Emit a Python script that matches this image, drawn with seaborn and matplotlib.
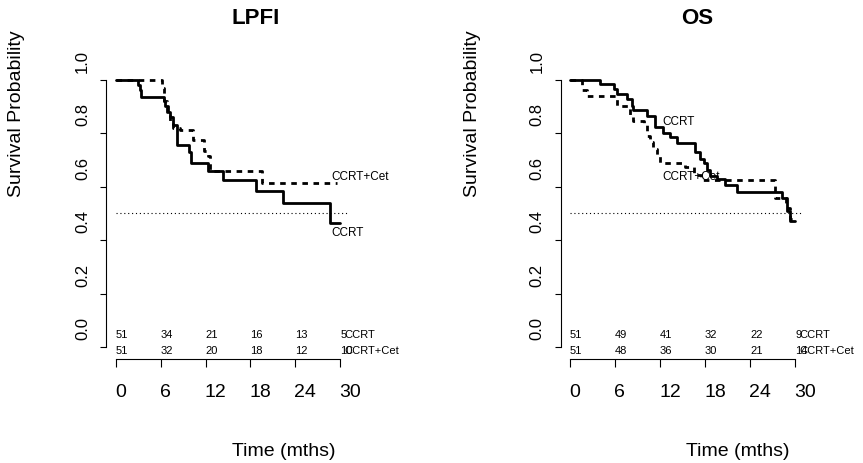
import matplotlib
matplotlib.use("Agg")
import matplotlib.pyplot as plt
import matplotlib.transforms as mtransforms
import seaborn as sns
import pandas as pd

# ---------------- data ----------------
groups = ["CCRT", "CCRT+Cet"]

lpfi_ccrt_t = [0, 2.9, 3.2, 3.4, 6.4, 6.6, 6.9, 7.2, 7.6, 8.2, 9.8, 10.0, 12.3, 14.3, 18.7, 22.4, 28.7, 30.0]
lpfi_ccrt_s = [1.0, 0.98, 0.96, 0.937, 0.92, 0.90, 0.88, 0.86, 0.83, 0.755, 0.73, 0.69, 0.66, 0.623, 0.585, 0.54, 0.465, 0.465]
lpfi_cet_t = [0, 6.1, 6.4, 6.8, 7.2, 7.6, 8.6, 10.3, 11.8, 12.3, 12.6, 19.5, 29.6]
lpfi_cet_s = [1.0, 0.97, 0.92, 0.88, 0.84, 0.82, 0.81, 0.773, 0.735, 0.715, 0.658, 0.615, 0.615]

os_ccrt_t = [0, 4.0, 5.8, 6.2, 7.6, 8.2, 8.4, 10.2, 11.3, 12.4, 13.3, 14.2, 16.7, 17.3, 17.8, 18.2, 18.7, 19.6, 20.7, 22.2, 28.2, 28.9, 29.3, 30.0]
os_ccrt_s = [1.0, 0.984, 0.965, 0.947, 0.926, 0.903, 0.885, 0.864, 0.823, 0.80, 0.786, 0.765, 0.73, 0.705, 0.687, 0.662, 0.64, 0.628, 0.606, 0.58, 0.557, 0.507, 0.47, 0.47]
os_cet_t = [0, 1.6, 2.2, 6.2, 8.0, 8.4, 9.8, 10.2, 10.6, 11.1, 11.6, 12.0, 15.3, 16.5, 17.5, 27.3, 28.8, 29.3, 29.8]
os_cet_s = [1.0, 0.963, 0.94, 0.903, 0.865, 0.847, 0.83, 0.79, 0.767, 0.742, 0.718, 0.69, 0.674, 0.645, 0.625, 0.556, 0.52, 0.48, 0.48]

risk_times = [0, 6, 12, 18, 24, 30]
lpfi_risk_ccrt = [51, 34, 21, 16, 13, 5]
lpfi_risk_cet = [51, 32, 20, 18, 12, 10]
os_risk_ccrt = [51, 49, 41, 32, 22, 9]
os_risk_cet = [51, 48, 36, 30, 21, 14]

x_ticks = [0, 6, 12, 18, 24, 30]
y_ticks = [0.0, 0.2, 0.4, 0.6, 0.8, 1.0]
y_ticklabels = ["0.0", "0.2", "0.4", "0.6", "0.8", "1.0"]
titles = ["LPFI", "OS"]

# ---------------- style ----------------
sns.set_theme(style="white")
plt.rcParams['font.family'] = ['Liberation Sans', 'DejaVu Sans']
plt.rcParams['text.color'] = 'black'
plt.rcParams['axes.labelcolor'] = 'black'

W, H = 863, 464
fig = plt.figure(figsize=(W / 100, H / 100), dpi=100)

XMAX = 31.3
axes_px = [(106.0, 116.0, 7.47), (560.7, 570.0, 7.5)]  # spine px, zero px, px per month
bottom_px, top_px = 360.0, 70.0


def panel(ax, geom, t1, s1, t2, s2, r1, r2, lab1, lab2):
    df = pd.DataFrame({
        "time": list(t1) + list(t2),
        "surv": list(s1) + list(s2),
        "group": [groups[0]] * len(t1) + [groups[1]] * len(t2),
    })
    sns.lineplot(data=df, x="time", y="surv", hue="group", style="group",
                 palette={groups[0]: "black", groups[1]: "black"},
                 dashes={groups[0]: "", groups[1]: (2, 2)},
                 drawstyle="steps-post", estimator=None, lw=2.0,
                 legend=False, ax=ax)
    ax.plot([0, 31], [0.5, 0.5], color="black", lw=0.8, linestyle=(0, (1, 2.5)))
    ax.set_xlim(-(geom[1] - geom[0]) / geom[2], XMAX)
    ax.set_ylim(-0.0449, 1.04)
    for sp in ["top", "right"]:
        ax.spines[sp].set_visible(False)
    ax.spines["left"].set_bounds(0, 1)
    ax.spines["bottom"].set_bounds(0, 30)
    for sp in ["left", "bottom"]:
        ax.spines[sp].set_color("black")
        ax.spines[sp].set_linewidth(0.8)
    ax.set_xticks(x_ticks)
    ax.set_xticklabels([str(v) for v in x_ticks])
    ax.set_yticks(y_ticks)
    ax.set_yticklabels(y_ticklabels)
    ax.tick_params(axis="x", bottom=True, direction="out", length=6, width=0.8,
                   color="black", labelsize=14, pad=11.5, labelcolor="black")
    ax.tick_params(axis="y", left=True, direction="out", length=4.5, width=0.8,
                   color="black", labelsize=12, pad=7, labelcolor="black")
    for lbl in ax.get_xticklabels():
        lbl.set_ha("left")
        lbl.set_transform(lbl.get_transform() +
                          mtransforms.ScaledTranslation(-1 / 100, 0, fig.dpi_scale_trans))
    for lbl in ax.get_yticklabels():
        lbl.set_rotation(90)
        lbl.set_va("bottom")
        lbl.set_transform(lbl.get_transform() +
                          mtransforms.ScaledTranslation(0, 8 / 100, fig.dpi_scale_trans))
    ax.set_xlabel("")
    ax.set_ylabel("")
    ax.grid(False)
    # numbers at risk
    for t, a, b in zip(risk_times, r1, r2):
        ax.text(t, 0.047, str(a), ha="left", va="center", fontsize=8)
        ax.text(t, -0.013, str(b), ha="left", va="center", fontsize=8)
    ax.text(30.6, 0.047, groups[0], ha="left", va="center", fontsize=8)
    ax.text(30.6, -0.013, groups[1], ha="left", va="center", fontsize=8)
    # curve labels
    ax.text(lab1[0], lab1[1], groups[0], ha="left", va="center", fontsize=8.5)
    ax.text(lab2[0], lab2[1], groups[1], ha="left", va="center", fontsize=8.5)


axs = []
for sp, zp, ppm in axes_px:
    right_px = zp + XMAX * ppm
    ax = fig.add_axes([sp / W, 1 - bottom_px / H, (right_px - sp) / W, (bottom_px - top_px) / H])
    axs.append(ax)

panel(axs[0], axes_px[0], lpfi_ccrt_t, lpfi_ccrt_s, lpfi_cet_t, lpfi_cet_s,
      lpfi_risk_ccrt, lpfi_risk_cet, (28.8, 0.43), (28.8, 0.64))
panel(axs[1], axes_px[1], os_ccrt_t, os_ccrt_s, os_cet_t, os_cet_s,
      os_risk_ccrt, os_risk_cet, (12.3, 0.846), (12.3, 0.64))

# titles and axis labels
for cx, title in zip([256, 697], titles):
    fig.text(cx / W, 1 - 19 / H, title, ha="center", va="center", fontsize=16, fontweight="bold")
for cx in [284, 738]:
    fig.text(cx / W, 1 - 452 / H, "Time (mths)", ha="center", va="center", fontsize=14)
for cx in [17, 472]:
    fig.text(cx / W, 1 - 114 / H, "Survival Probability", ha="center", va="center",
             rotation=90, fontsize=14)

fig.savefig("out.png", dpi=100)
